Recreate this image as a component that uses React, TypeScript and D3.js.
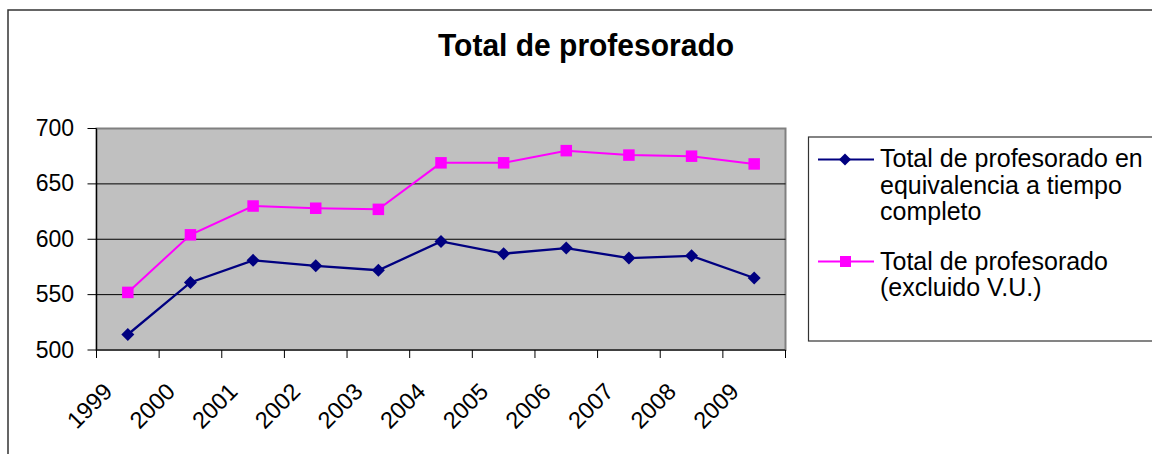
import React from 'react'
import * as d3 from 'd3'

const years = ['1999', '2000', '2001', '2002', '2003', '2004', '2005', '2006', '2007', '2008', '2009']
const fullTime = [514, 561, 581, 576, 572, 598, 587, 592, 583, 585, 565]
const excludingVU = [552, 604, 630, 628, 627, 669, 669, 680, 676, 675, 668]
const yTicks = [500, 550, 600, 650, 700]
const title = 'Total de profesorado'
const legendFullTime = ['Total de profesorado en', 'equivalencia a tiempo', 'completo']
const legendExcl = ['Total de profesorado', '(excluido V.U.)']

const W = 1152
const H = 454
const plot = { left: 96.5, right: 785.5, top: 128.5, bottom: 350 }
const font = 'Arial, "Liberation Sans", sans-serif'
const navy = '#000080'
const pink = '#FF00FF'

const App: React.FC = () => {
  const x = d3.scaleBand<string>().domain(years).range([plot.left, plot.right])
  const y = d3.scaleLinear().domain([500, 700]).range([plot.bottom, plot.top])
  const cx = (d: string) => (x(d) ?? 0) + x.bandwidth() / 2

  const line = d3
    .line<number>()
    .x((_, i) => cx(years[i]))
    .y(d => y(d))

  const boundaries = years.map(d => x(d) ?? 0).concat([plot.right])

  const legendText = (t: string, yy: number) => (
    <text key={t} x={880} y={yy} fontSize={25} fill="#000">
      {t}
    </text>
  )

  return (
    <svg width={W} height={H} style={{ position: 'absolute', left: 0, top: 0 }} fontFamily={font}>
      <rect x={0} y={0} width={W} height={H} fill="#fff" />
      {/* outer chart border, runs off the right and bottom */}
      <rect x={8} y={10} width={W + 20} height={H + 20} fill="none" stroke="#333" strokeWidth={1.5} />

      <text
        transform="translate(586,56) scale(1,1.05)"
        textAnchor="middle"
        fontSize={30}
        fontWeight="bold"
        fill="#000"
      >
        {title}
      </text>

      {/* plot area */}
      <rect
        x={plot.left}
        y={plot.top}
        width={plot.right - plot.left}
        height={plot.bottom - plot.top}
        fill="#C0C0C0"
        stroke="#808080"
        strokeWidth={2}
      />
      {yTicks.slice(1, -1).map(t => (
        <line key={t} x1={plot.left} x2={plot.right} y1={y(t)} y2={y(t)} stroke="#000" strokeWidth={1} />
      ))}
      <line x1={plot.left} x2={plot.left} y1={plot.top} y2={plot.bottom} stroke="#000" strokeWidth={1.2} />
      <line x1={plot.left} x2={plot.right} y1={plot.bottom} y2={plot.bottom} stroke="#000" strokeWidth={1.2} />

      {yTicks.map(t => (
        <g key={t}>
          <line x1={plot.left - 9} x2={plot.left} y1={y(t)} y2={y(t)} stroke="#000" strokeWidth={1} />
          <text x={74} y={y(t) + 7.5} textAnchor="end" fontSize={23} fill="#000">
            {t}
          </text>
        </g>
      ))}

      {boundaries.map((b, i) => (
        <line key={i} x1={b} x2={b} y1={plot.bottom} y2={plot.bottom + 8} stroke="#000" strokeWidth={1} />
      ))}
      {years.map(d => (
        <text
          key={d}
          transform={`translate(${cx(d) - 14},${393}) rotate(-45)`}
          textAnchor="end"
          fontSize={23.5}
          fill="#000"
        >
          {d}
        </text>
      ))}

      {/* series */}
      <path d={line(excludingVU) ?? ''} fill="none" stroke={pink} strokeWidth={2} />
      {excludingVU.map((v, i) => (
        <rect key={i} x={cx(years[i]) - 5.75} y={y(v) - 5.75} width={11.5} height={11.5} fill={pink} />
      ))}
      <path d={line(fullTime) ?? ''} fill="none" stroke={navy} strokeWidth={2.3} />
      {fullTime.map((v, i) => (
        <path
          key={i}
          d={`M${cx(years[i])},${y(v) - 6.5}l6.5,6.5l-6.5,6.5l-6.5,-6.5z`}
          fill={navy}
        />
      ))}

      {/* legend */}
      <rect x={808.5} y={137} width={360} height={204} fill="#fff" stroke="#333" strokeWidth={1.2} />
      <line x1={818} x2={874} y1={159.5} y2={159.5} stroke={navy} strokeWidth={2} />
      <path d="M845,153.5l6,6l-6,6l-6,-6z" fill={navy} />
      {legendFullTime.map((t, i) => legendText(t, 167 + i * 26.7))}
      <line x1={818} x2={874} y1={261.5} y2={261.5} stroke={pink} strokeWidth={2} />
      <rect x={840} y={256} width={11} height={11} fill={pink} />
      {legendExcl.map((t, i) => legendText(t, 269.5 + i * 26))}
    </svg>
  )
}

export default App
